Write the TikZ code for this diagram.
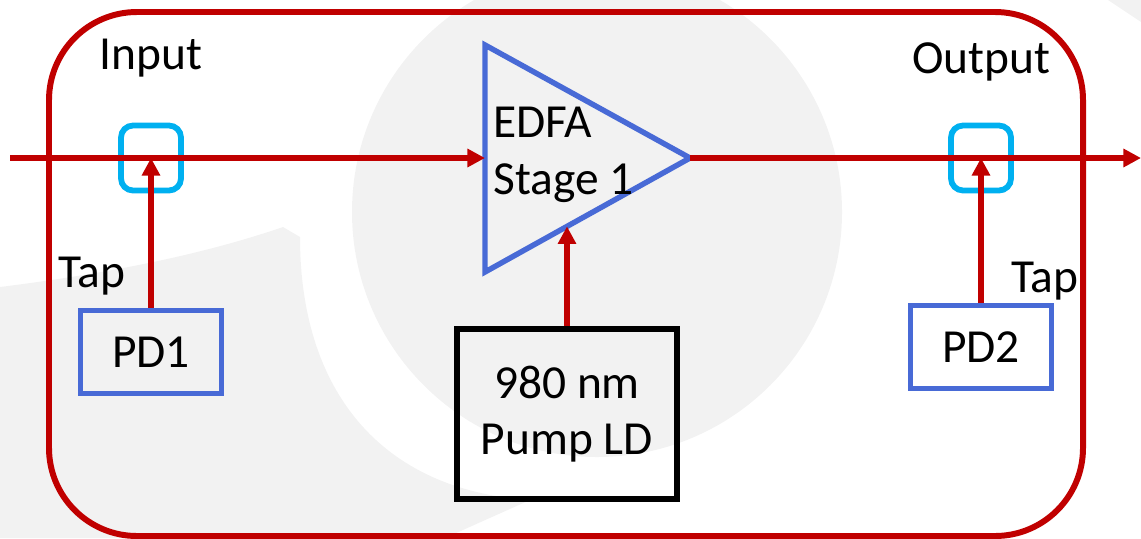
\documentclass[tikz,border=0pt]{standalone}
\usepackage{fontspec}
\setmainfont{Carlito}
\usetikzlibrary{arrows.meta,calc}
\definecolor{fibred}{RGB}{192,0,0}
\definecolor{tapcyan}{RGB}{0,176,240}
\definecolor{pdblue}{RGB}{72,106,214}
\definecolor{wmgray}{RGB}{242,242,242}
\tikzset{
  txt/.style={font=\fontsize{27}{32.3}\selectfont},
  blk/.style={draw,rectangle,txt,align=center,inner sep=0pt},
  pdblk/.style={blk,draw=pdblue,line width=3.1pt,minimum width=2.82cm,minimum height=1.66cm},
  pumpblk/.style={blk,draw=black,line width=3.4pt,minimum width=4.4cm,minimum height=3.4cm},
  tapblk/.style={draw=tapcyan,line width=3.3pt,rounded corners=0.24cm,minimum width=1.2cm,minimum height=1.3cm,inner sep=0pt},
  fib/.style={fibred,line width=3.4pt},
  arr/.style={fib,-{Triangle[length=10pt,width=10pt]}},
  lbl/.style={txt,inner sep=0pt,anchor=base}
}

\begin{document}
\begin{tikzpicture}[x=0.02cm,y=-0.02cm]
  \useasboundingbox (0,0) rectangle (1141,538);
  % watermark in the background
  \fill[wmgray] (597,212) circle[radius=245];
  \fill[wmgray] (0,287) .. controls (120,272) and (210,252) .. (283,227) -- (300,237)
    .. controls (300,390) and (380,490) .. (530,500) -- (445,538) -- (0,538) -- cycle;
  \fill[wmgray] (1108,0) -- (1141,0) -- (1141,22) -- cycle;

  % module frame
  \draw[fib,rounded corners=1.76cm] (49,12) rectangle (1083,536);

  % amplifier stage
  \coordinate (amptop) at (485,45);
  \coordinate (ampbot) at (485,272);
  \coordinate (amptip) at (690,158);
  \coordinate (ampin) at (485,158);
  \coordinate (amppump) at ($(ampbot)!0.4!(amptip)$);
  \draw[pdblue,line width=3.1pt] (amptop) -- (amptip) -- (ampbot) -- cycle;
  \node[txt,align=left,anchor=west,inner sep=0pt] (amplbl) at (493,155) {EDFA\\Stage 1};

  \node[tapblk] (tapin) at (151,158) {};
  \node[tapblk] (tapout) at (981,158) {};
  \node[pdblk] (pd1) at (151,352) {PD1};
  \node[pdblk] (pd2) at (981,347) {PD2};
  \node[pumpblk] (pump) at (567,414) {980 nm\\Pump LD};

  \node[lbl] (inlbl) at (151,69) {Input};
  \node[lbl] (outlbl) at (981,73) {Output};
  \node[lbl] (taplbl1) at (92,287) {Tap};
  \node[lbl] (taplbl2) at (1045,292) {Tap};

  \coordinate (src) at (10,158);
  \coordinate (sink) at (1141,158);
  \draw[arr] (src) -- (ampin);
  \draw[arr] (amptip) -- (sink);
  \draw[arr] (pd1.north) -- (tapin.center);
  \draw[arr] (pd2.north) -- (tapout.center);
  \draw[arr] (pump.north) -- (pump.north |- amppump);
\end{tikzpicture}
\end{document}
